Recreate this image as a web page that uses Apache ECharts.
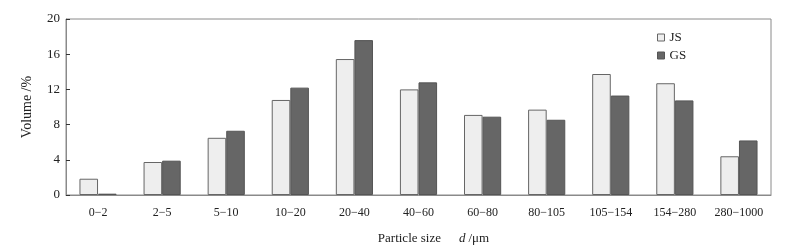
<!DOCTYPE html>
<html>
<head>
<meta charset="utf-8">
<script src="https://cdn.jsdelivr.net/npm/echarts@6/dist/echarts.min.js"></script>
<style>
  html, body { margin: 0; padding: 0; background: #fff; }
  #chart { width: 789px; height: 250px; }
</style>
</head>
<body>
<div id="chart"></div>
<script>
const categories = ['0−2', '2−5', '5−10', '10−20', '20−40', '40−60', '60−80', '80−105', '105−154', '154−280', '280−1000'];
const jsValues = [1.85, 3.75, 6.5, 10.8, 15.45, 12.0, 9.1, 9.7, 13.75, 12.7, 4.4];
const gsValues = [0.15, 3.9, 7.3, 12.2, 17.6, 12.8, 8.9, 8.55, 11.3, 10.75, 6.2];
const yTicks = [0, 4, 8, 12, 16, 20];

const font = '"Liberation Serif", "DejaVu Serif", serif';
const chart = echarts.init(document.getElementById('chart'));

chart.setOption({
  animation: false,
  textStyle: { fontFamily: font },
  grid: {
    left: 66, right: 18, top: 19, bottom: 55,
    show: true, borderColor: '#8a8a8a', borderWidth: 1
  },
  legend: {
    orient: 'vertical',
    left: 652, top: 26,
    itemWidth: 7, itemHeight: 7, itemGap: 5,
    textStyle: { fontFamily: font, fontSize: 13, color: '#222' },
    data: [
      { name: 'JS', icon: 'rect', itemStyle: { color: '#eeeeee', borderColor: '#666', borderWidth: 1 } },
      { name: 'GS', icon: 'rect', itemStyle: { color: '#666666', borderColor: '#555', borderWidth: 1 } }
    ]
  },
  xAxis: {
    type: 'category',
    data: categories,
    name: '{a|Particle size}      {b|d} {a|/μm}',
    nameLocation: 'middle',
    nameGap: 37,
    nameTextStyle: {
      padding: [0, 0, 0, 30],
      rich: {
        a: { fontFamily: font, fontSize: 13, color: '#222' },
        b: { fontFamily: font, fontSize: 13, fontStyle: 'italic', color: '#222' }
      }
    },
    axisLine: { lineStyle: { color: '#8a8a8a', width: 1 } },
    axisTick: { inside: true, length: 4, lineStyle: { color: '#333' } },
    axisLabel: { fontFamily: font, fontSize: 12, color: '#222', margin: 12, interval: 0 }
  },
  yAxis: {
    type: 'value',
    min: 0, max: 20, interval: 4,
    name: 'Volume /%',
    nameLocation: 'middle',
    nameGap: 32,
    nameTextStyle: { fontFamily: font, fontSize: 14, color: '#222' },
    splitLine: { show: false },
    axisLine: { show: true, lineStyle: { color: '#8a8a8a', width: 1 } },
    axisTick: { show: true, inside: true, length: 4, lineStyle: { color: '#333' } },
    axisLabel: {
      fontFamily: font, fontSize: 13, color: '#222', margin: 6,
      formatter: v => (yTicks.includes(v) ? String(v) : '')
    }
  },
  series: [
    {
      name: 'JS', type: 'bar', data: jsValues,
      barWidth: '29%', barGap: '0%',
      itemStyle: { color: '#eeeeee', borderColor: '#666', borderWidth: 1 }
    },
    {
      name: 'GS', type: 'bar', data: gsValues,
      barWidth: '29%',
      itemStyle: { color: '#666666', borderColor: '#555', borderWidth: 1 }
    }
  ]
});
</script>
</body>
</html>
